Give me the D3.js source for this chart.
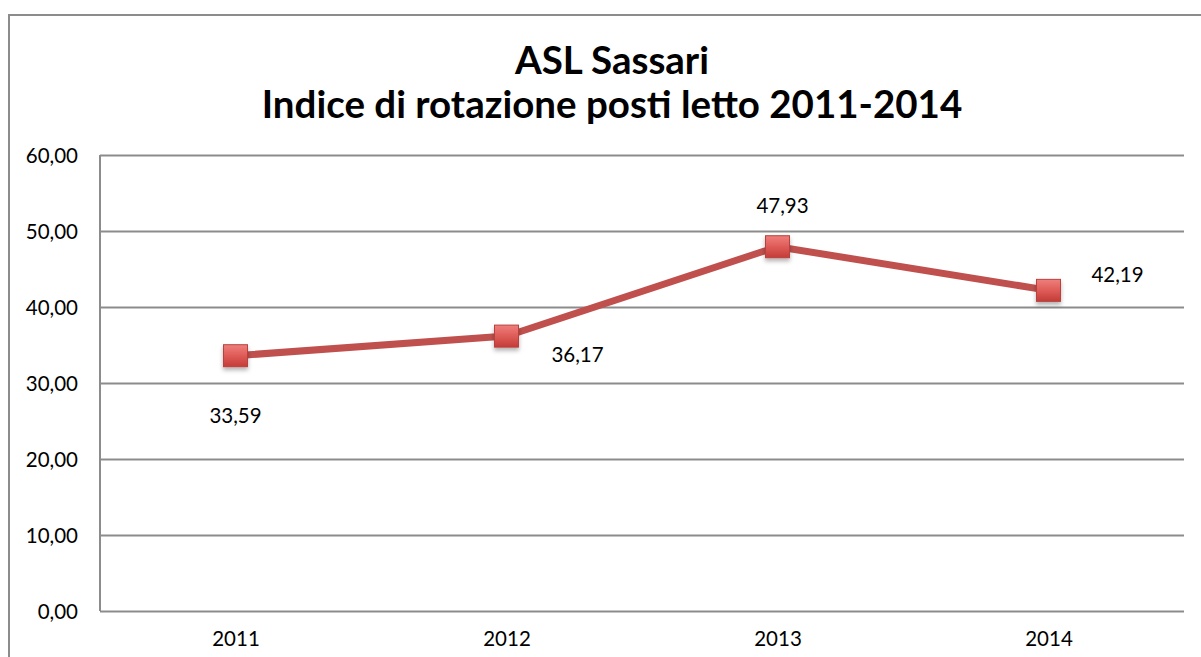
<!DOCTYPE html>
<html><head><meta charset="utf-8">
<script src="https://cdn.jsdelivr.net/npm/d3@7"></script>
<style>html,body{margin:0;padding:0;background:#fff;}svg{display:block;}</style>
</head><body>
<svg id="c" width="1201" height="657"></svg>
<script>
const categories = ["2011", "2012", "2013", "2014"];
const values = [33.59, 36.17, 47.93, 42.19];
const yTicks = [0, 10, 20, 30, 40, 50, 60];
const titleLines = ["ASL Sassari", "Indice di rotazione posti letto 2011-2014"];
// label placement per point (dx, dy relative to point)
const labelPlacement = [[0, 60], [71, 19], [5, -41], [69, -16]];

const svg = d3.select("#c");
const W = 1201, H = 657;
const m = {left: 100, right: 1184, top: 155, bottom: 611};
const fmt = v => d3.format(".2f")(v).replace(".", ",");
const FONT = "Lato, 'Open Sans', sans-serif";

const defs = svg.append("defs");
const g = defs.append("linearGradient").attr("id", "mk").attr("x1", 0).attr("y1", 0).attr("x2", 0).attr("y2", 1);
g.append("stop").attr("offset", "0%").attr("stop-color", "#ef7f7c");
g.append("stop").attr("offset", "45%").attr("stop-color", "#e05f5b");
g.append("stop").attr("offset", "100%").attr("stop-color", "#c43c38");
const f = defs.append("filter").attr("id", "sh").attr("x", "-50%").attr("y", "-50%").attr("width", "200%").attr("height", "200%");
f.append("feDropShadow").attr("dx", 0).attr("dy", 3).attr("stdDeviation", 2).attr("flood-color", "#000").attr("flood-opacity", 0.3);

// outer border
svg.append("path").attr("d", `M9,${H + 5}V15H${W + 5}`).attr("fill", "none").attr("stroke", "#8c8c8c").attr("stroke-width", 2);

const x = d3.scalePoint().domain(categories).range([m.left, m.right]).padding(0.5);
const y = d3.scaleLinear().domain([0, 60]).range([m.bottom, m.top]);

// gridlines + y axis
const yAxis = d3.axisLeft(y).tickValues(yTicks).tickSize(-(m.right - m.left)).tickFormat(fmt).tickPadding(22);
const ya = svg.append("g").attr("transform", `translate(${m.left},0)`).call(yAxis);
ya.select(".domain").attr("stroke", "#8c8c8c").attr("stroke-width", 2).attr("d", `M0,${m.top}V${m.bottom}`);
ya.selectAll(".tick line").attr("stroke", "#8c8c8c").attr("stroke-width", 2);
ya.selectAll(".tick text").attr("font-family", FONT).attr("font-size", 20.5).attr("fill", "#000").attr("dy", "0.38em");

// x axis
const xAxis = d3.axisBottom(x).tickSize(0).tickPadding(20);
const xa = svg.append("g").attr("transform", `translate(0,${m.bottom})`).call(xAxis);
xa.select(".domain").remove();
xa.selectAll(".tick text").attr("font-family", FONT).attr("font-size", 20.5).attr("fill", "#000");

// title
svg.append("g").selectAll("text").data(titleLines).join("text")
  .attr("x", 612).attr("y", (d, i) => 74 + i * 44)
  .attr("text-anchor", "middle")
  .attr("font-family", FONT).attr("font-weight", "bold").attr("font-size", 38.5)
  .attr("fill", "#000").text(d => d);

// line
const data = categories.map((c, i) => ({c, v: values[i], i}));
svg.append("path").datum(data)
  .attr("d", d3.line().x(d => x(d.c)).y(d => y(d.v)))
  .attr("fill", "none").attr("stroke", "#c0504d").attr("stroke-width", 7).attr("stroke-linejoin", "round");

// markers
svg.append("g").selectAll("rect").data(data).join("rect")
  .attr("x", d => x(d.c) - 12).attr("y", d => y(d.v) - 11)
  .attr("width", 24).attr("height", 22)
  .attr("fill", "url(#mk)").attr("stroke", "#b8413e").attr("stroke-width", 1)
  .attr("filter", "url(#sh)");

// data labels
svg.append("g").selectAll("text").data(data).join("text")
  .attr("x", d => x(d.c) + labelPlacement[d.i][0])
  .attr("y", d => y(d.v) + labelPlacement[d.i][1])
  .attr("dy", "0.35em").attr("text-anchor", "middle")
  .attr("font-family", FONT).attr("font-size", 20.5).attr("fill", "#000")
  .text(d => fmt(d.v));
</script>
</body></html>
